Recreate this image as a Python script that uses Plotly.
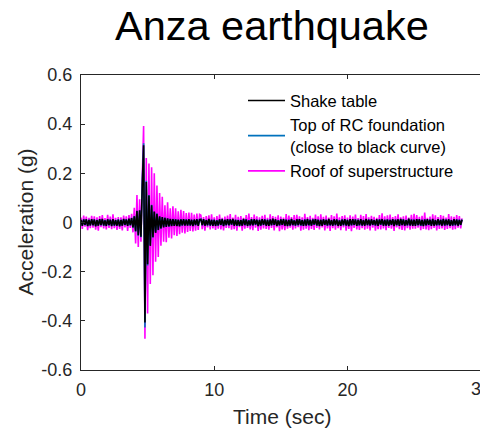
import numpy as np
import plotly.graph_objects as go

# Sampling of the records (s)
DT = 0.1
N_SAMPLES = 287

# Accelerations in milli-g, one row per second of record
shake_table_mg = [
    11, -14, 12, -9, 13, -15, 10, -12, 14, -11,
    12, -16, 9, -13, 14, -10, 15, -12, 8, -14,
    13, -10, 11, -15, 14, -12, 9, -13, 12, -16,
    10, -13, 15, -9, 12, -14, 16, -11, 18, -20,
    25, -35, 48, -52, 50, -58, 150, 314, -407, 165,
    -170, 110, -95, 70, -60, 45, -42, 35, -30, 25,
    -24, 22, -20, 19, -18, 17, -16, 15, -15, 14,
    -14, 13, -15, 12, -16, 13, -12, 14, -13, 12,
    -13, 14, -12, 11, -15, 12, -10, 13, -14, 11,
    12, -10, 14, -13, 9, -11, 15, -12, 10, -14,
    11, -14, 8, -12, 13, -9, 14, -15, 11, -10,
    14, -11, 12, -8, 15, -13, 10, -12, 9, -14,
    9, -13, 15, -10, 12, -14, 8, -11, 13, -12,
    13, -8, 11, -15, 10, -12, 14, -9, 12, -13,
    10, -14, 12, -11, 16, -9, 13, -14, 8, -11,
    12, -9, 14, -13, 11, -15, 10, -12, 15, -10,
    8, -12, 13, -10, 14, -11, 9, -14, 12, -13,
    15, -11, 10, -13, 12, -8, 14, -12, 11, -15,
    11, -14, 13, -9, 10, -12, 15, -11, 9, -13,
    13, -10, 12, -14, 8, -13, 11, -10, 14, -12,
    10, -15, 14, -11, 13, -9, 12, -14, 10, -11,
    14, -12, 9, -13, 15, -10, 11, -12, 13, -9,
    9, -11, 13, -14, 12, -8, 14, -13, 10, -12,
    12, -13, 10, -9, 14, -15, 11, -10, 13, -14,
    15, -10, 12, -13, 9, -11, 16, -12, 11, -13,
    11, -14, 14, -10, 13, -12, 10, -15, 12, -11,
    13, -9, 11, -14, 15, -13, 9, -11, 14, -10,
    10, -13, 15, -12, 11, -10, 13, -14, 9, -12,
    14, -11, 12, -13, 10, -9, 11,
]

foundation_top_mg = [
    10, -13, 13, -10, 12, -14, 11, -11, 13, -12,
    13, -15, 10, -12, 13, -11, 14, -13, 9, -13,
    12, -11, 12, -14, 13, -13, 10, -12, 13, -15,
    11, -12, 14, -10, 13, -13, 15, -12, 19, -21,
    26, -36, 47, -54, 49, -60, 162, 322, -427, 170,
    -175, 112, -93, 72, -61, 44, -40, 36, -31, 24,
    -25, 21, -19, 20, -17, 16, -17, 14, -14, 15,
    -13, 14, -14, 11, -15, 14, -13, 13, -12, 13,
    -12, 13, -13, 12, -14, 11, -11, 14, -13, 12,
    13, -11, 13, -12, 10, -12, 14, -13, 11, -13,
    12, -13, 9, -13, 12, -10, 15, -14, 10, -11,
    13, -12, 13, -9, 14, -12, 11, -13, 10, -13,
    10, -12, 14, -11, 13, -13, 9, -12, 14, -11,
    12, -9, 12, -14, 11, -13, 13, -10, 13, -12,
    11, -13, 13, -12, 15, -10, 12, -13, 9, -12,
    13, -10, 13, -12, 12, -14, 11, -13, 14, -11,
    9, -13, 12, -11, 13, -12, 10, -13, 13, -12,
    14, -12, 11, -12, 13, -9, 13, -13, 12, -14,
    12, -13, 12, -10, 11, -13, 14, -12, 10, -12,
    12, -11, 13, -13, 9, -12, 12, -11, 13, -13,
    11, -14, 13, -12, 12, -10, 13, -13, 11, -12,
    13, -13, 10, -12, 14, -11, 12, -13, 12, -10,
    10, -12, 12, -13, 13, -9, 13, -12, 11, -13,
    13, -12, 11, -10, 13, -14, 12, -11, 12, -13,
    14, -11, 13, -12, 10, -12, 15, -13, 12, -12,
    12, -13, 13, -11, 12, -13, 11, -14, 13, -12,
    12, -10, 12, -13, 14, -12, 10, -12, 13, -11,
    11, -12, 14, -13, 12, -11, 12, -13, 10, -13,
    13, -12, 13, -12, 11, -10, 12,
]

roof_mg = [
    20, -26, 28, -17, 24, -31, 19, -23, 27, -21,
    25, -29, 21, -33, 26, -19, 30, -24, 18, -28,
    31, -22, 24, -27, 33, -23, 19, -30, 22, -26,
    21, -32, 28, -20, 25, -34, 30, -22, 35, -40,
    60, -85, 112, -100, 95, -78, 180, 392, -473, 262,
    -370, 240, -250, 225, -215, 200, -160, 150, -140, 120,
    -95, 105, -78, 70, -80, 82, -62, 58, -65, 66,
    -52, 58, -55, 46, -48, 52, -42, 47, -45, 38,
    -38, 40, -34, 39, -36, 32, -33, 36, -30, 33,
    30, -27, 22, -33, 26, -20, 29, -28, 33, -24,
    21, -30, 26, -25, 32, -28, 19, -32, 24, -22,
    28, -23, 34, -29, 20, -27, 31, -33, 23, -19,
    26, -33, 19, -25, 30, -22, 36, -28, 22, -31,
    32, -21, 25, -34, 21, -29, 27, -24, 31, -26,
    19, -29, 33, -22, 26, -32, 23, -20, 29, -35,
    24, -28, 20, -31, 34, -25, 28, -21, 22, -29,
    30, -24, 31, -19, 25, -33, 21, -29, 35, -25,
    22, -31, 27, -26, 19, -30, 32, -22, 25, -28,
    33, -20, 23, -32, 28, -24, 20, -34, 30, -23,
    25, -29, 36, -23, 21, -31, 26, -20, 29, -33,
    20, -26, 29, -35, 24, -22, 32, -28, 18, -30,
    31, -23, 26, -29, 34, -25, 21, -32, 27, -21,
    23, -33, 19, -27, 30, -28, 37, -24, 25, -31,
    29, -22, 32, -25, 22, -34, 26, -20, 33, -27,
    21, -30, 25, -32, 28, -23, 20, -29, 31, -25,
    35, -25, 30, -21, 23, -31, 27, -26, 40, -28,
    19, -31, 24, -27, 33, -22, 29, -32, 22, -26,
    30, -24, 27, -30, 20, -26, 34, -23, 25, -29,
    23, -27, 30, -21, 26, -24, 17,
]

y_tick_values = [-0.6, -0.4, -0.2, 0, 0.2, 0.4, 0.6]
y_tick_labels = ["-0.6", "-0.4", "-0.2", "0", "0.2", "0.4", "0.6"]
x_tick_values = [0, 10, 20, 30]
x_tick_labels = ["0", "10", "20", "30"]

series_names = [
    "Shake table",
    "Top of RC foundation<br>(close to black curve)",
    "Roof of superstructure",
]
series_colors = ["#000000", "#0072BD", "#FF00FF"]

for arr in (shake_table_mg, foundation_top_mg, roof_mg):
    assert len(arr) == N_SAMPLES

t = np.arange(N_SAMPLES) * DT
shake = np.array(shake_table_mg) / 1000.0
found = np.array(foundation_top_mg) / 1000.0
roof = np.array(roof_mg) / 1000.0

X_MAX = 29.95
FONT = "Liberation Sans, Arial, sans-serif"
AX = "#262626"

fig = go.Figure()
# Roof drawn first so the table and foundation records sit on top of it
for y, name, color, rank in [
    (roof, series_names[2], series_colors[2], 3),
    (found, series_names[1], series_colors[1], 2),
    (shake, series_names[0], series_colors[0], 1),
]:
    fig.add_trace(go.Scatter(
        x=t, y=y, mode="lines", name=name, legendrank=rank,
        line=dict(color=color, width=1.6, simplify=False),
    ))

fig.update_layout(
    width=480, height=430,
    margin=dict(l=81, r=0, t=75, b=60),
    paper_bgcolor="white", plot_bgcolor="white",
    font=dict(family=FONT, color=AX, size=18),
    showlegend=True,
    legend=dict(
        x=(243 - 81) / 399, y=0.972, xanchor="left", yanchor="top",
        bgcolor="rgba(0,0,0,0)", borderwidth=0,
        font=dict(family=FONT, size=16.5, color="#000000"),
        tracegroupgap=0, itemwidth=37,
    ),
    xaxis=dict(
        range=[0, X_MAX], tickvals=x_tick_values[:-1], ticktext=x_tick_labels[:-1],
        ticks="inside", ticklen=4, tickcolor=AX, showline=True, linecolor=AX,
        linewidth=1, mirror="ticks", showgrid=False, zeroline=False,
        tickfont=dict(size=18, color=AX), ticklabelstandoff=3,
    ),
    yaxis=dict(
        range=[-0.6, 0.6], tickvals=y_tick_values, ticktext=y_tick_labels,
        ticks="inside", ticklen=4, tickcolor=AX, showline=True, linecolor=AX,
        linewidth=1, mirror=False, showgrid=False, zeroline=False,
        tickfont=dict(size=18, color=AX), ticklabelstandoff=4,
    ),
    annotations=[
        dict(text="Anza earthquake", xref="paper", yref="paper",
             x=(272 - 81) / 399, y=1 + (75 - 26) / 295, xanchor="center", yanchor="middle",
             showarrow=False, font=dict(size=41.5, color="#000000", family=FONT)),
        dict(text="Acceleration (g)", xref="paper", yref="paper",
             x=(25 - 81) / 399, y=0.5, xanchor="center", yanchor="middle",
             textangle=-90, showarrow=False, font=dict(size=21, color=AX, family=FONT)),
        dict(text="Time (sec)", xref="paper", yref="paper",
             x=(282 - 81) / 399, y=-(416 - 370) / 295, xanchor="center", yanchor="middle",
             showarrow=False, font=dict(size=21, color=AX, family=FONT)),
        # label of the 30 s tick, which sits at the right edge of the axes
        dict(text=x_tick_labels[-1], xref="paper", yref="paper",
             x=x_tick_values[-1] / X_MAX, y=-(389 - 370) / 295, xanchor="center", yanchor="middle",
             showarrow=False, font=dict(size=18, color=AX, family=FONT)),
    ],
)

fig.write_html("out.html")
